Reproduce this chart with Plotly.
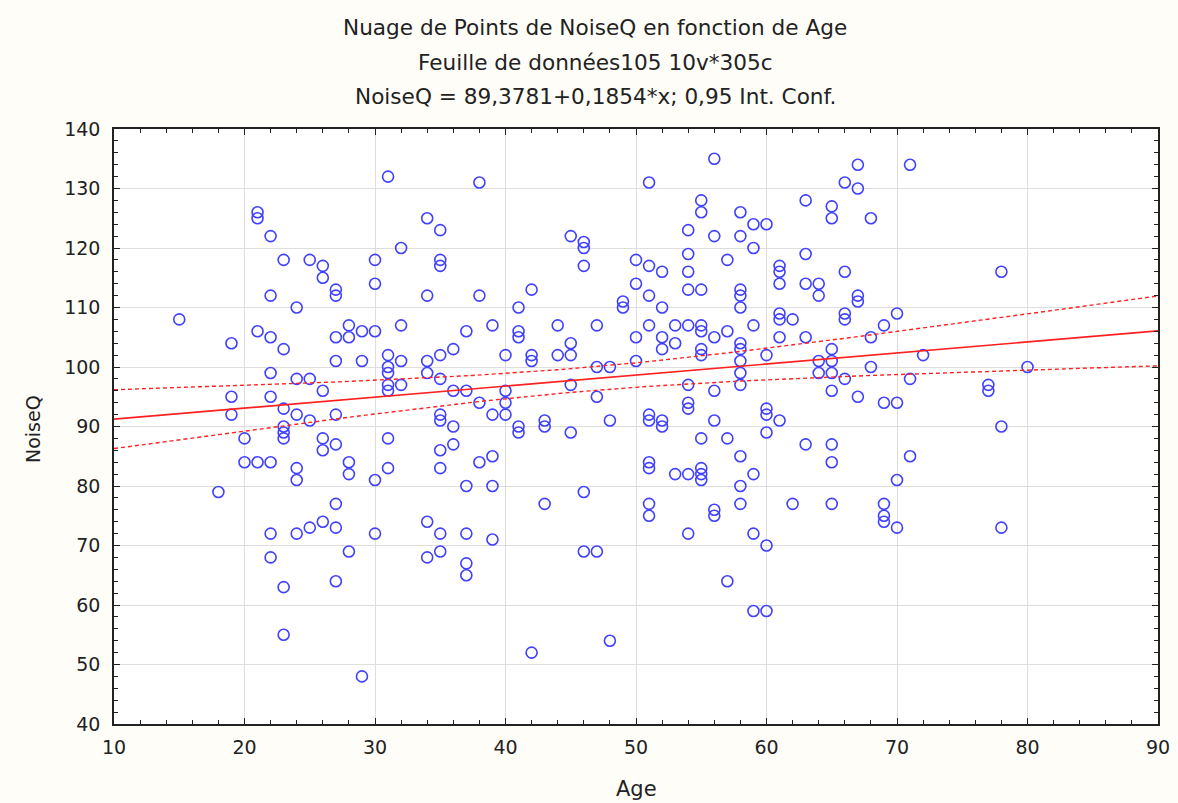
import numpy as np
import plotly.graph_objects as go

# Age / NoiseQ observations, grouped by age
ages = (
    [15] * 1 + [18] * 1 + [19] * 3 + [20] * 2 + [21] * 4 + [22] * 8 + [23] * 8
    + [24] * 6 + [25] * 4 + [26] * 6 + [27] * 9 + [28] * 5 + [29] * 3 + [30] * 5
    + [31] * 8 + [32] * 4 + [34] * 6 + [35] * 11 + [36] * 4 + [37] * 6 + [38] * 4
    + [39] * 5 + [40] * 4 + [41] * 5 + [42] * 4 + [43] * 3 + [44] * 2 + [45] * 5
    + [46] * 5 + [47] * 4 + [48] * 3 + [49] * 2 + [50] * 4 + [51] * 10 + [52] * 6
    + [53] * 3 + [54] * 10 + [55] * 11 + [56] * 7 + [57] * 4 + [58] * 13 + [59] * 6
    + [60] * 7 + [61] * 7 + [62] * 2 + [63] * 5 + [64] * 4 + [65] * 9 + [66] * 5
    + [67] * 5 + [68] * 3 + [69] * 5 + [70] * 4 + [71] * 3 + [72] * 1 + [77] * 2
    + [78] * 3 + [80] * 1
)
noise_q = [
    108,
    79,
    104, 95, 92,
    88, 84,
    126, 125, 106, 84,
    122, 112, 105, 99, 95, 84, 72, 68,
    118, 103, 93, 90, 89, 88, 63, 55,
    110, 98, 92, 83, 81, 72,
    118, 98, 91, 73,
    117, 115, 96, 88, 86, 74,
    113, 112, 105, 101, 92, 87, 77, 73, 64,
    107, 105, 84, 82, 69,
    106, 101, 48,
    118, 114, 106, 81, 72,
    132, 102, 100, 99, 97, 96, 88, 83,
    120, 107, 101, 97,
    125, 112, 101, 99, 74, 68,
    123, 118, 117, 102, 98, 92, 91, 86, 83, 72, 69,
    103, 96, 90, 87,
    106, 96, 80, 72, 67, 65,
    131, 112, 94, 84,
    107, 92, 85, 80, 71,
    102, 96, 94, 92,
    110, 106, 105, 90, 89,
    113, 102, 101, 52,
    91, 90, 77,
    107, 102,
    122, 104, 102, 97, 89,
    121, 120, 117, 79, 69,
    107, 100, 95, 69,
    100, 91, 54,
    111, 110,
    118, 114, 105, 101,
    131, 117, 112, 107, 92, 91, 84, 83, 77, 75,
    116, 110, 105, 103, 91, 90,
    107, 104, 82,
    123, 119, 116, 113, 107, 97, 94, 93, 82, 72,
    128, 126, 113, 107, 106, 103, 102, 88, 83, 82, 81,
    135, 122, 105, 96, 91, 76, 75,
    118, 106, 88, 64,
    126, 122, 113, 112, 110, 104, 103, 101, 99, 97, 85, 80, 77,
    124, 120, 107, 82, 72, 59,
    124, 102, 93, 92, 89, 70, 59,
    117, 116, 114, 109, 108, 105, 91,
    108, 77,
    128, 119, 114, 105, 87,
    114, 112, 101, 99,
    127, 125, 103, 101, 99, 96, 87, 84, 77,
    131, 116, 109, 108, 98,
    134, 130, 112, 111, 95,
    125, 105, 100,
    107, 94, 77, 75, 74,
    109, 94, 81, 73,
    134, 98, 85,
    102,
    97, 96,
    116, 90, 73,
    100,
]

# Fitted model reported in the title
intercept = 89.3781
slope = 0.1854
t_crit = 1.968  # two-sided 95% Student t, large df

x = np.asarray(ages, dtype=float)
y = np.asarray(noise_q, dtype=float)
n = len(x)
resid = y - (intercept + slope * x)
s = np.sqrt(np.sum(resid ** 2) / (n - 2))
x_mean = x.mean()
sxx = np.sum((x - x_mean) ** 2)

x_line = np.linspace(10, 90, 161)
y_fit = intercept + slope * x_line
half = t_crit * s * np.sqrt(1.0 / n + (x_line - x_mean) ** 2 / sxx)

WIDE = "DejaVu Sans, Verdana, sans-serif"
INK = "#222"
W, H = 1178, 803
L, R, T, B = 114, 20, 129, 79

fig = go.Figure()
fig.add_trace(go.Scatter(
    x=ages, y=noise_q, mode="markers",
    marker=dict(symbol="circle-open", size=11, color="#4040ff",
                line=dict(width=1.6, color="#4040ff")),
    showlegend=False, hoverinfo="x+y",
))
fig.add_trace(go.Scatter(x=x_line, y=y_fit, mode="lines",
                         line=dict(color="#ff2020", width=1.6), showlegend=False))
for band in (y_fit + half, y_fit - half):
    fig.add_trace(go.Scatter(x=x_line, y=band, mode="lines",
                             line=dict(color="#ff2020", width=1.4, dash="4px,3px"),
                             showlegend=False))

axis_common = dict(
    showline=True, linecolor=INK, linewidth=1.5, mirror="allticks",
    ticks="inside", ticklen=6, tickcolor=INK, tickwidth=1,
    showgrid=True, gridcolor="#dedede", gridwidth=1.2, zeroline=False,
    tickfont=dict(family=WIDE, size=19, color=INK), automargin=False,
    minor=dict(dtick=2, ticks="inside", ticklen=4, tickcolor=INK, showgrid=False),
)
fig.update_xaxes(range=[10, 90], dtick=10, tick0=10, ticklabelstandoff=5, **axis_common)
fig.update_yaxes(range=[40, 140], dtick=10, tick0=40, ticklabelstandoff=8, **axis_common)

plot_w = W - L - R
plot_h = H - T - B
def paper_x(px):
    return (px - L) / plot_w
def paper_y(py):
    return (H - B - py) / plot_h

titles = [
    "Nuage de Points de NoiseQ en fonction de Age",
    "Feuille de données105 10v*305c",
    "NoiseQ = 89,3781+0,1854*x; 0,95 Int. Conf.",
]
for i, txt in enumerate(titles):
    fig.add_annotation(text=txt, xref="paper", yref="paper",
                       x=paper_x(595), y=paper_y(28 + 34.5 * i),
                       xanchor="center", yanchor="middle", showarrow=False,
                       font=dict(family=WIDE, size=21.6, color=INK))

# Axis titles
fig.add_annotation(text="Age", xref="paper", yref="paper",
                   x=0.5, y=paper_y(789), xanchor="center", yanchor="middle",
                   showarrow=False, font=dict(family=WIDE, size=21, color=INK))
fig.add_annotation(text="NoiseQ", xref="paper", yref="paper", textangle=-90,
                   x=paper_x(33), y=paper_y(429), xanchor="center", yanchor="middle",
                   showarrow=False, font=dict(family=WIDE, size=19, color=INK))

fig.update_layout(
    width=W, height=H,
    margin=dict(l=L, r=R, t=T, b=B),
    paper_bgcolor="#fffdf8", plot_bgcolor="#ffffff",
)
fig.write_html("out.html")
